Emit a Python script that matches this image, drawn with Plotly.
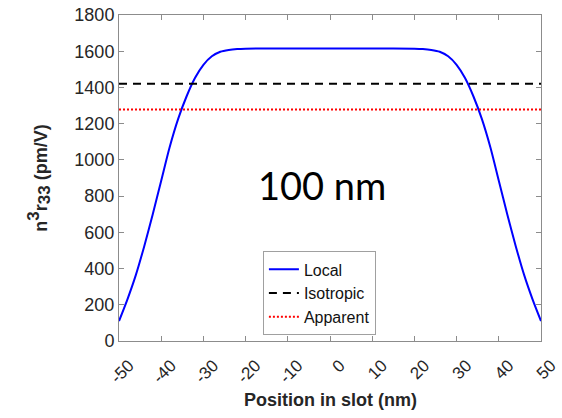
import plotly.graph_objects as go

# Data
position_nm = [-50, -48, -46, -44, -42, -40, -38, -36, -34, -32, -30, -28, -26, -24, -22, -20,
               -15, -10, -5, 0, 5, 10, 15,
               20, 22, 24, 26, 28, 30, 32, 34, 36, 38, 40, 42, 44, 46, 48, 50]
local_r33 = [110, 230, 365, 525, 700, 885, 1070, 1225, 1350, 1452, 1525, 1572, 1597, 1607, 1612, 1614,
             1615, 1615, 1615, 1615, 1615, 1615, 1615,
             1614, 1612, 1607, 1597, 1572, 1525, 1452, 1350, 1225, 1070, 885, 700, 525, 365, 230, 110]
isotropic_value = 1420
apparent_value = 1278
x_range = [-50, 50]
x_ticks = [-50, -40, -30, -20, -10, 0, 10, 20, 30, 40, 50]
x_tick_labels = ["-50", "-40", "-30", "-20", "-10", "0", "10", "20", "30", "40", "50"]
y_ticks = [0, 200, 400, 600, 800, 1000, 1200, 1400, 1600, 1800]

fig = go.Figure()
fig.add_trace(go.Scatter(x=position_nm, y=local_r33, mode="lines", name="Local",
                         line=dict(color="#0000ff", width=2, shape="spline", smoothing=0.8)))
fig.add_trace(go.Scatter(x=x_range, y=[isotropic_value] * 2, mode="lines", name="Isotropic",
                         line=dict(color="black", width=2, dash="8px,6px")))
fig.add_trace(go.Scatter(x=x_range, y=[apparent_value] * 2, mode="lines", name="Apparent",
                         line=dict(color="#ff0000", width=2, dash="2px,2px")))

fig.add_annotation(x=-2, y=860, text="100 nm", showarrow=False,
                   font=dict(family="Lato", size=38, color="black"))
fig.add_annotation(x=0.5, y=-0.18, xref="paper", yref="paper", xanchor="center", yanchor="middle",
                   text="<b>Position in slot (nm)</b>", showarrow=False,
                   font=dict(size=18, color="#262626"))

axis_color = "#8c8c8c"
fig.update_layout(
    width=562, height=418,
    margin=dict(l=119, r=21, t=15, b=77),
    plot_bgcolor="white", paper_bgcolor="white",
    font=dict(family="Liberation Sans, Arial", size=18, color="#262626"),
    showlegend=True,
    legend=dict(x=0.341, y=0.275, xanchor="left", yanchor="top",
                bgcolor="white", bordercolor="#a0a0a0", borderwidth=1,
                font=dict(size=16, color="#111111"), itemwidth=30,
                tracegroupgap=0),
    xaxis=dict(range=x_range, tickvals=x_ticks, ticktext=x_tick_labels, tickangle=-45,
               ticklabelshift=10, ticklabelstandoff=7, automargin=False,
               tickfont=dict(size=17),
               showline=True, linecolor=axis_color, linewidth=1, mirror="ticks",
               ticks="inside", ticklen=5, tickcolor=axis_color, showgrid=False, zeroline=False),
    yaxis=dict(range=[0, 1800], tickvals=y_ticks, automargin=False,
               showline=True, linecolor=axis_color, linewidth=1, mirror="ticks",
               ticks="inside", ticklen=5, tickcolor=axis_color, showgrid=False, zeroline=False,
               title=dict(text="<b>n<sup><span style='font-size:17px'>3</span></sup>r<sub><span style='font-size:17px'>33</span></sub> (pm/V)</b>",
                          font=dict(size=18, color="#262626"), standoff=22)),
)

fig.write_html("out.html")
